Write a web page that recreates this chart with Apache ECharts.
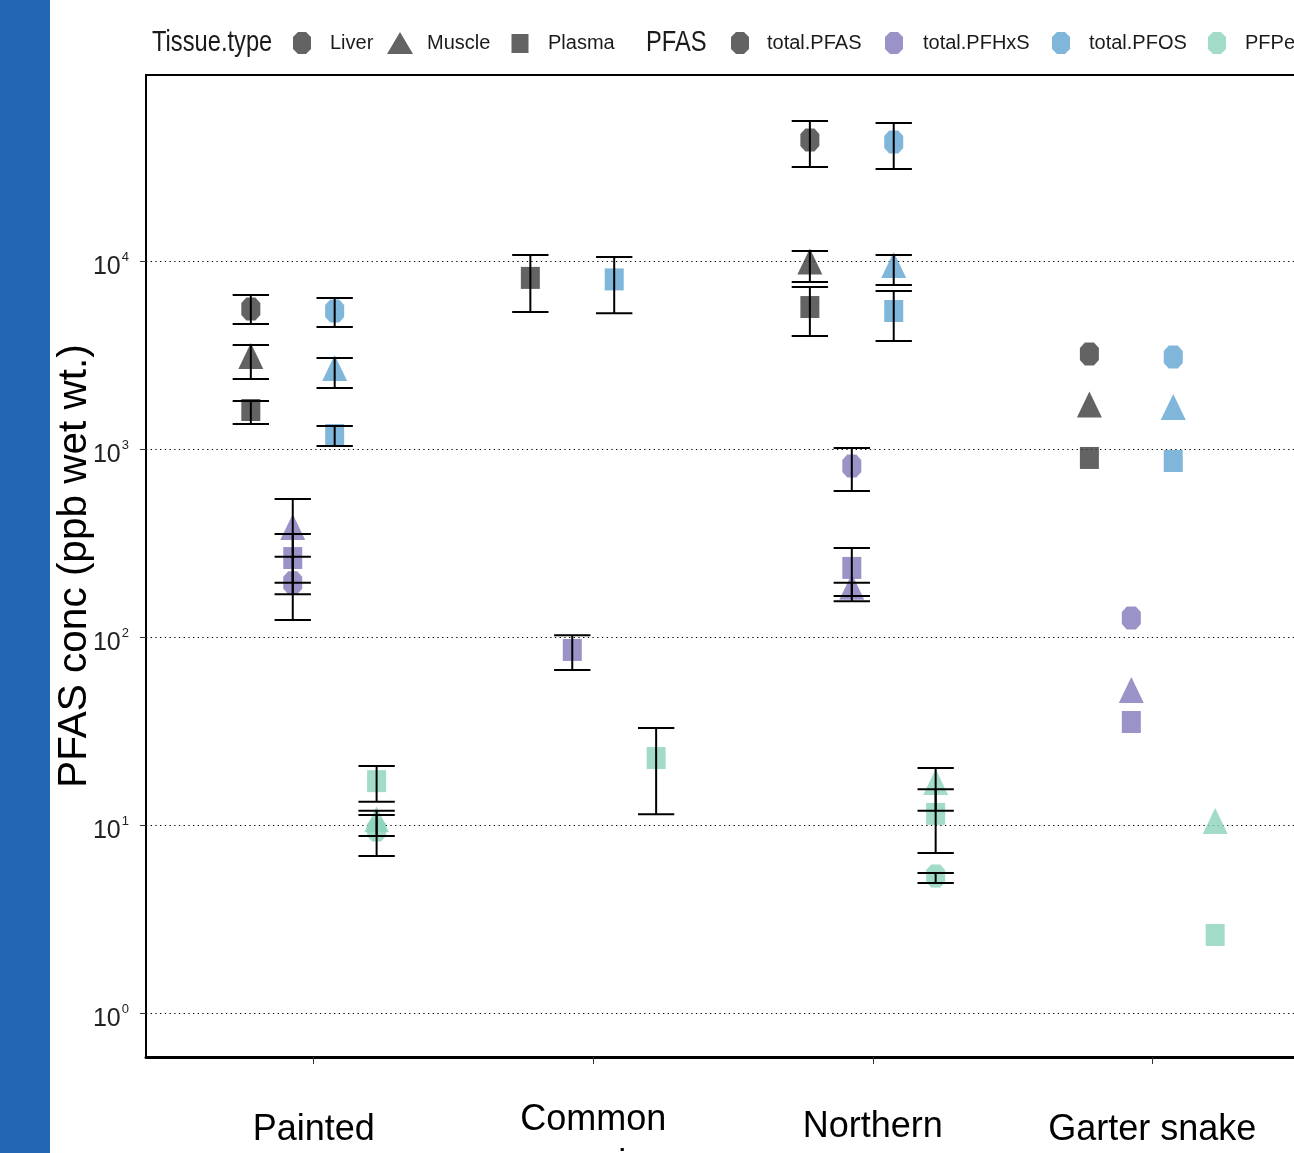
<!DOCTYPE html>
<html>
<head>
<meta charset="utf-8">
<script src="https://cdn.jsdelivr.net/npm/echarts@6/dist/echarts.min.js"></script>
<style>
html,body{margin:0;padding:0;background:#fff;}
#chart{width:1294px;height:1153px;}
</style>
</head>
<body>
<div id="chart"></div>
<script>
// ---------- DATA ----------
const species = ['Painted', 'Common\nsnapping', 'Northern', 'Garter snake'];
const tissues = ['Liver', 'Muscle', 'Plasma'];
const pfasNames = ['total.PFAS', 'total.PFHxS', 'total.PFOS', 'PFPeA'];
const yTickValues = [1, 10, 100, 1000, 10000];

// rows = species (Painted, Common, Northern, Garter), columns = tissue (Liver, Muscle, Plasma)
const meanTotalPFAS  = [[5560, 2973, 1612], [null, null, 8130], [44000, 9460, 5690], [3200, 1642, 896]];
const lowTotalPFAS   = [[4620, 2357, 1358], [null, null, 5350], [31600, 7730, 3990], [null, null, null]];
const highTotalPFAS  = [[6590, 3574, 1800], [null, null, 10760], [55600, 11300, 7280], [null, null, null]];

const meanTotalPFHxS = [[194, 366, 263], [null, null, 85.3], [812, 176, 233], [126, 49.8, 35.3]];
const lowTotalPFHxS  = [[123, 194, 169], [null, null, 66.7], [598, 155, 165], [null, null, null]];
const highTotalPFHxS = [[267, 542, 353], [null, null, 102], [1012, 194, 297], [null, null, null]];

const meanTotalPFOS  = [[5420, 2570, 1187], [null, null, 7980], [42950, 9060, 5420], [3085, 1592, 863]];
const lowTotalPFOS   = [[4457, 2110, 1038], [null, null, 5280], [30850, 7450, 3750], [null, null, null]];
const highTotalPFOS  = [[6360, 3050, 1325], [null, null, 10500], [54200, 10760, 6920], [null, null, null]];

const meanPFPeA      = [[9.4, 10.2, 17.1], [null, null, 22.7], [5.35, 16.1, 11.45], [null, 10.0, 2.6]];
const lowPFPeA       = [[6.84, 8.74, 13.3], [null, null, 11.4], [4.91, 11.9, 7.1], [null, null, null]];
const highPFPeA      = [[11.3, 11.9, 20.6], [null, null, 32.8], [5.55, 20.1, 15.5], [null, null, null]];

// ---------- STYLE ----------
const meanSets = [meanTotalPFAS, meanTotalPFHxS, meanTotalPFOS, meanPFPeA];
const lowSets  = [lowTotalPFAS, lowTotalPFHxS, lowTotalPFOS, lowPFPeA];
const highSets = [highTotalPFAS, highTotalPFHxS, highTotalPFOS, highPFPeA];
const dodge = [-0.225, -0.075, 0.075, 0.225];
const colors = ['#3c3c3c', '#8178ba', '#5fa4d1', '#8bd2ba'];
const tissueColor = '#3c3c3c';
const octagon = 'path://M5,0L14,0L19,5.5L19,17.5L14,23L5,23L0,17.5L0,5.5Z';
const shapeSymbol = [octagon, 'triangle', 'rect'];
const shapeSize = [[19, 23], [25, 26], [19, 22]];
const shapeOffset = [[0, 0], [0, -4], [0, 0]];
const legendIcons = [
  'path://M5,0L13,0L18,5L18,17L13,22L5,22L0,17L0,5Z',
  'path://M13,0L26,22L0,22Z',
  'path://M0,0L17,0L17,19L0,19Z'
];
const FONT = "'Liberation Sans', Arial, sans-serif";
const capWidth = 0.13;

// ---------- SERIES ----------
const series = [];
pfasNames.forEach((p, pi) => {
  const data = [];
  species.forEach((s, si) => {
    tissues.forEach((t, ti) => {
      const v = meanSets[pi][si][ti];
      if (v == null) return;
      data.push({
        value: [si + 1 + dodge[pi], v, t],
        symbol: shapeSymbol[ti],
        symbolSize: shapeSize[ti],
        symbolOffset: shapeOffset[ti]
      });
    });
  });
  series.push({
    name: p, type: 'scatter', data: data, z: 3,
    itemStyle: { color: colors[pi], opacity: 0.8 },
    emphasis: { disabled: true }
  });
});
// dummy series for the shape legend
tissues.forEach((t, ti) => {
  series.push({
    name: t, type: 'scatter', data: [],
    symbol: shapeSymbol[ti],
    itemStyle: { color: tissueColor, opacity: 0.8 }
  });
});
// error bars
const errData = [];
pfasNames.forEach((p, pi) => {
  species.forEach((s, si) => {
    tissues.forEach((t, ti) => {
      const lo = lowSets[pi][si][ti], hi = highSets[pi][si][ti];
      if (lo == null || hi == null) return;
      errData.push([si + 1 + dodge[pi], lo, hi]);
    });
  });
});
series.push({
  type: 'custom', name: 'err', z: 5, silent: true,
  data: errData,
  encode: { x: 0, y: [1, 2] },
  renderItem: function (params, api) {
    const x = api.value(0), lo = api.value(1), hi = api.value(2);
    const pLo = api.coord([x, lo]);
    const pHi = api.coord([x, hi]);
    const left = api.coord([x - capWidth / 2, lo])[0];
    const right = api.coord([x + capWidth / 2, lo])[0];
    const st = { stroke: '#000', lineWidth: 2 };
    return {
      type: 'group',
      children: [
        { type: 'line', shape: { x1: pLo[0], y1: pLo[1], x2: pHi[0], y2: pHi[1] }, style: st },
        { type: 'line', shape: { x1: left, y1: pLo[1], x2: right, y2: pLo[1] }, style: st },
        { type: 'line', shape: { x1: left, y1: pHi[1], x2: right, y2: pHi[1] }, style: st }
      ]
    };
  }
});

// ---------- LEGENDS (one per item to place them exactly) ----------
const legendItems = [
  { name: 'Liver',  icon: legendIcons[0], w: 18, h: 22, center: 302, textX: 330 },
  { name: 'Muscle', icon: legendIcons[1], w: 26, h: 22, center: 400, textX: 427 },
  { name: 'Plasma', icon: legendIcons[2], w: 17, h: 19, center: 520, textX: 548 },
  { name: 'total.PFAS',  icon: legendIcons[0], w: 18, h: 22, center: 740, textX: 767 },
  { name: 'total.PFHxS', icon: legendIcons[0], w: 18, h: 22, center: 894, textX: 923 },
  { name: 'total.PFOS',  icon: legendIcons[0], w: 18, h: 22, center: 1061, textX: 1089 },
  { name: 'PFPeA',       icon: legendIcons[0], w: 18, h: 22, center: 1217, textX: 1245 }
];
const legends = legendItems.map(it => {
  const left = it.center - it.w / 2;
  return {
    data: [it.name], icon: it.icon, left: left, top: 43 - it.h / 2,
    itemWidth: it.w, itemHeight: it.h, padding: 0, selectedMode: false,
    textStyle: {
      fontFamily: FONT, fontSize: 20, color: '#1a1a1a',
      padding: [6, 0, 0, it.textX - (left + it.w + 5)]
    }
  };
});

const option = {
  backgroundColor: '#fff',
  animation: false,
  legend: legends,
  graphic: [
    { type: 'rect', left: 0, top: 0, shape: { width: 50, height: 1153 }, style: { fill: '#2367b4' }, z: -1 },
    { type: 'text', x: 152, y: 43, scaleX: 0.79, style: { text: 'Tissue.type', font: "30px 'Liberation Sans', Arial, sans-serif", fill: '#1a1a1a', verticalAlign: 'middle', align: 'left' } },
    { type: 'text', x: 646, y: 43, scaleX: 0.79, style: { text: 'PFAS', font: "30px 'Liberation Sans', Arial, sans-serif", fill: '#1a1a1a', verticalAlign: 'middle', align: 'left' } }
  ],
  grid: { left: 146, top: 75, right: -26, bottom: 96, outerBoundsMode: 'none', containLabel: false, show: true, borderColor: '#000', borderWidth: 2, backgroundColor: 'transparent' },
  xAxis: {
    type: 'value', min: 0.4, max: 4.6,
    axisLine: { show: true, onZero: false, lineStyle: { color: '#000', width: 3 } },
    axisTick: { show: true, customValues: [1, 2, 3, 4], length: 7, lineStyle: { color: '#333', width: 1 } },
    splitLine: { show: false },
    axisLabel: {
      customValues: [1, 2, 3, 4],
      margin: 41,
      color: '#000',
      formatter: function (v) {
        const idx = Math.round(v) - 1;
        const name = species[idx] || '';
        return name.split('\n').map(l => '{s' + idx + '|' + l + '}').join('\n');
      },
      rich: {
        s0: { fontFamily: FONT, fontSize: 36, lineHeight: 65, color: '#000' },
        s1: { fontFamily: FONT, fontSize: 36, lineHeight: 45, color: '#000' },
        s2: { fontFamily: FONT, fontSize: 36, lineHeight: 58, color: '#000' },
        s3: { fontFamily: FONT, fontSize: 36, lineHeight: 65, color: '#000' }
      }
    }
  },
  yAxis: {
    type: 'log', logBase: 10, min: 0.583, max: 97600,
    name: 'PFAS conc (ppb wet wt.)', nameLocation: 'middle', nameRotate: 90, nameGap: 51,
    nameMoveOverlap: false,
    nameTextStyle: { fontFamily: FONT, fontSize: 40.5, color: '#000' },
    axisLine: { show: true, onZero: false, lineStyle: { color: '#000', width: 2 } },
    axisTick: { show: true, length: 6, lineStyle: { color: '#333', width: 1 } },
    minorTick: { show: false },
    splitLine: { show: true, showMinLine: false, showMaxLine: false, lineStyle: { color: '#000', width: 1, type: [1.3, 3.4] } },
    axisLabel: {
      showMinLabel: false, showMaxLabel: false, margin: 17,
      formatter: function (v) {
        const e = Math.round(Math.log10(v));
        return '{b|10}{s|' + e + '}';
      },
      rich: {
        b: { fontFamily: FONT, fontSize: 25, lineHeight: 30, padding: [12, 0, 0, 0], color: '#222' },
        s: { fontFamily: FONT, fontSize: 13, lineHeight: 10, padding: [5, 0, 0, 1], verticalAlign: 'top', color: '#222' }
      }
    }
  },
  series: series
};

const chart = echarts.init(document.getElementById('chart'), null, { renderer: 'canvas' });
chart.setOption(option);
</script>
</body>
</html>
